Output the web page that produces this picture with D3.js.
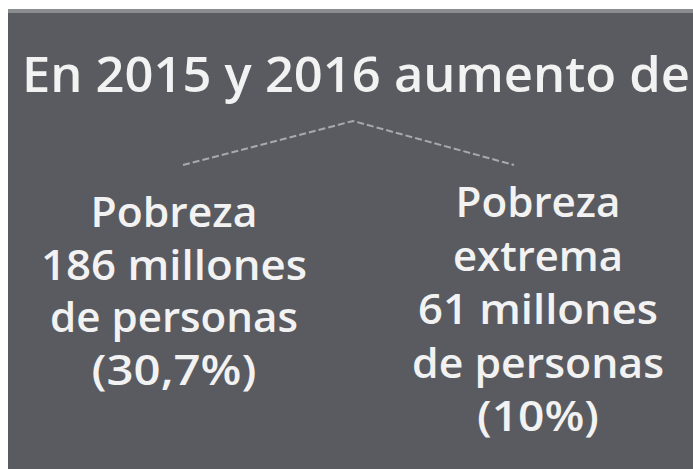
<!DOCTYPE html>
<html><head><meta charset="utf-8">
<script src="https://cdn.jsdelivr.net/npm/d3@7"></script>
<style>html,body{margin:0;padding:0;background:#fff;}svg{display:block;}</style>
</head><body>
<script>
// ---- data ----
const title = "En 2015 y 2016 aumento de";
const leftLines = ["Pobreza", "186 millones", "de personas", "(30,7%)"];
const rightLines = ["Pobreza", "extrema", "61 millones", "de personas", "(10%)"];
const leftWidths = [167, 266, 248, 165];
const rightWidths = [165, 170, 240, 252, 122];

const W = 693, H = 469;
const svg = d3.select("body").append("svg").attr("width", W).attr("height", H);

const panel = {x: 8, y: 9, w: W - 8, h: H - 9};
svg.append("rect").attr("x", panel.x).attr("y", panel.y).attr("width", panel.w).attr("height", panel.h).attr("fill", "#5a5b60");
svg.append("rect").attr("x", panel.x).attr("y", panel.y).attr("width", panel.w).attr("height", 4).attr("fill", "#8b8c90");

const font = "'Open Sans', 'DejaVu Sans', sans-serif";

svg.append("text").attr("x", 356).attr("y", 92)
  .attr("text-anchor", "middle").attr("font-family", font).attr("font-weight", 600)
  .attr("font-size", 48).attr("fill", "#f2f2f2")
  .attr("textLength", 668).attr("lengthAdjust", "spacingAndGlyphs").text(title);

// dashed connector
const peak = [353, 121], leftEnd = [183, 165], rightEnd = [514, 165];
svg.append("path").attr("d", d3.line()([leftEnd, peak, rightEnd]))
  .attr("fill", "none").attr("stroke", "#a9a9ad").attr("stroke-width", 2)
  .attr("stroke-dasharray", "7,3");

function block(lines, widths, cx, y0, step) {
  const y = d3.scaleLinear().domain([0, 1]).range([y0, y0 + step]);
  svg.append("g").selectAll("text").data(lines).join("text")
    .attr("x", cx).attr("y", (d, i) => y(i))
    .attr("text-anchor", "middle").attr("font-family", font).attr("font-weight", 600)
    .attr("font-size", 42).attr("fill", "#f2f2f2")
    .attr("textLength", (d, i) => widths[i]).attr("lengthAdjust", "spacingAndGlyphs")
    .text(d => d);
}
block(leftLines, leftWidths, 174, 227, 52.5);
block(rightLines, rightWidths, 538, 217, 53.5);
</script>
</body></html>
